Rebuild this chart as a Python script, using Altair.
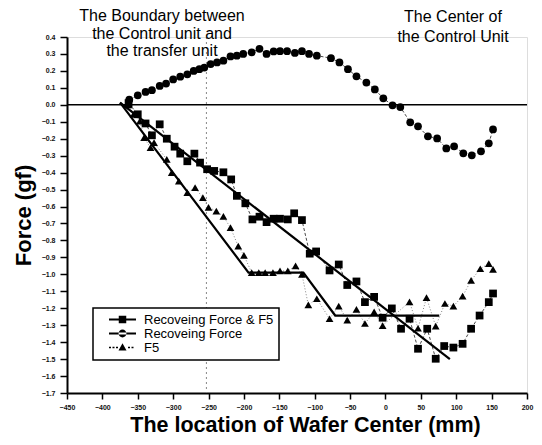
import altair as alt
import pandas as pd

# ---------------- data ----------------
series_names = ["Recoveing Force & F5", "Recoveing Force", "F5"]

# Recoveing Force & F5 (squares)
sq_x = [-363, -350, -339, -330, -319, -309, -298, -290, -280, -270, -262, -252, -242, -229,
        -218, -210, -198, -188, -178, -168, -158, -149, -138, -129, -118, -107, -98, -79,
        -66, -54, -41, -29, -16, -4, 9, 22, 34, 46, 59, 71, 83, 96, 109, 121, 133, 146, 152]
sq_y = [0.01, -0.056, -0.11, -0.18, -0.115, -0.20, -0.247, -0.288, -0.333, -0.288, -0.341, -0.38,
        -0.39, -0.398, -0.44, -0.537, -0.581, -0.676, -0.66, -0.692, -0.672, -0.672, -0.676,
        -0.64, -0.68, -0.878, -0.865, -0.977, -0.942, -1.063, -1.042, -1.164, -1.133, -1.256,
        -1.201, -1.321, -1.262, -1.439, -1.321, -1.498, -1.423, -1.432, -1.41, -1.321, -1.243,
        -1.164, -1.113]

# Recoveing Force (circles)
ci_x = [-362, -350, -339, -330, -319, -310, -300, -290, -280, -271, -263, -256, -247, -238,
        -229, -219, -210, -201, -189, -178, -168, -158, -149, -139, -128, -118, -108, -97,
        -77, -65, -53, -41, -27, -15, -3, 10, 21, 35, 46, 60, 73, 86, 97, 110, 122, 135, 146, 152]
ci_y = [0.03, 0.056, 0.076, 0.086, 0.111, 0.125, 0.15, 0.166, 0.18, 0.20, 0.21, 0.22, 0.24, 0.25,
        0.26, 0.285, 0.29, 0.30, 0.31, 0.33, 0.30, 0.315, 0.316, 0.316, 0.306, 0.316, 0.30, 0.29,
        0.275, 0.25, 0.21, 0.168, 0.131, 0.091, 0.038, -0.003, -0.013, -0.103, -0.127, -0.186,
        -0.198, -0.257, -0.245, -0.286, -0.298, -0.274, -0.227, -0.145]

# F5 (triangles)
tr_x = [-363, -356, -347, -341, -332, -327, -309, -302, -292, -280, -269, -258, -250, -239,
        -229, -219, -208, -200, -189, -179, -170, -159, -149, -138, -127, -118, -109, -97,
        -79, -66, -54, -41, -29, -16, -4, 34, 46, 58, 71, 84, 96, 109, 121, 134, 146, 152]
tr_y = [0.0, -0.056, -0.096, -0.194, -0.253, -0.223, -0.322, -0.40, -0.45, -0.518, -0.489,
        -0.548, -0.605, -0.627, -0.658, -0.725, -0.834, -0.888, -0.99, -0.99, -0.99, -0.99,
        -0.98, -0.98, -0.95, -1.0, -1.18, -1.144, -1.262, -1.187, -1.27, -1.207, -1.29, -1.222,
        -1.302, -1.162, -1.318, -1.138, -1.306, -1.172, -1.188, -1.129, -1.036, -0.967, -0.937,
        -0.971]

# straight fit lines
fit_sq_x = [-375, 91]
fit_sq_y = [0.013, -1.50]
fit_tr_x = [-375, -193.5, -116, -71, 76]
fit_tr_y = [0.013, -0.99, -0.99, -1.243, -1.243]

boundary_x = -253
x_ticks = [-450, -400, -350, -300, -250, -200, -150, -100, -50, 0, 50, 100, 150, 200]
y_ticks = [0.4, 0.3, 0.2, 0.1, 0.0, -0.1, -0.2, -0.3, -0.4, -0.5, -0.6, -0.7, -0.8, -0.9,
           -1.0, -1.1, -1.2, -1.3, -1.4, -1.5, -1.6, -1.7]

annot_left = ["The Boundary between", "the Control unit and", "the transfer unit"]
annot_right = ["The Center of", "the Control Unit"]

# ---------------- tables ----------------
pts = pd.concat([
    pd.DataFrame({"x": sq_x, "y": sq_y, "s": series_names[0]}),
    pd.DataFrame({"x": ci_x, "y": ci_y, "s": series_names[1]}),
    pd.DataFrame({"x": tr_x, "y": tr_y, "s": series_names[2]}),
], ignore_index=True)
fits = pd.concat([
    pd.DataFrame({"x": fit_sq_x, "y": fit_sq_y, "f": "A"}),
    pd.DataFrame({"x": fit_tr_x, "y": fit_tr_y, "f": "B"}),
], ignore_index=True)

FONT = "Liberation Sans"
xs = alt.Scale(domain=[-450, 200], nice=False, zero=False)
ys = alt.Scale(domain=[-1.7, 0.4], nice=False, zero=False)

X = alt.X("x:Q", scale=xs, axis=alt.Axis(
    values=x_ticks, format="d", title="The location of Wafer Center (mm)",
    labelFontSize=7, labelFontWeight="bold", labelColor="#111", labelPadding=4,
    labelOverlap=False, labelFlush=False,
    tickSize=6, tickWidth=1.5, tickColor="black", domainWidth=2, domainColor="black",
    titleFontSize=21.5, titleFontWeight="bold", titleFont=FONT, titleColor="black",
    titlePadding=4, titleX=238, titleAlign="center", grid=False))
Y = alt.Y("y:Q", scale=ys, axis=alt.Axis(
    values=y_ticks, format=".1f", title="Force (gf)",
    labelFontSize=7, labelFontWeight="bold", labelColor="#111", labelPadding=5,
    labelOverlap=False, labelFlush=False,
    tickSize=7, tickWidth=1.5, tickColor="black", domainWidth=2, domainColor="black",
    titleFontSize=22, titleFontWeight="bold", titleFont=FONT, titleColor="black",
    titlePadding=6, grid=False))

base = alt.Chart(pts)

zero_line = alt.Chart(pd.DataFrame({"y": [0.0]})).mark_rule(
    color="black", strokeWidth=1.5).encode(y=Y)
boundary = alt.Chart(pd.DataFrame({"x": [boundary_x]})).mark_rule(
    color="#888", strokeWidth=1, strokeDash=[2, 3]).encode(x=X)

def conn(name, dash, color):
    return base.transform_filter(alt.datum.s == name).mark_line(
        color=color, strokeWidth=0.9, strokeDash=dash).encode(x=X, y=Y)

lines = [conn(series_names[0], [3, 2], "#333"),
         conn(series_names[1], [3, 2], "#333"),
         conn(series_names[2], [1, 2], "#777")]

fit_lines = alt.Chart(fits).mark_line(color="black", strokeWidth=2.2).encode(
    x=X, y=Y, detail="f:N")

points = base.mark_point(filled=True, opacity=1, color="black", size=60).encode(
    x=X, y=Y,
    shape=alt.Shape("s:N", scale=alt.Scale(domain=series_names,
                                            range=["square", "circle", "triangle-up"]),
                    legend=None))

# legend symbols (unit = 5 px at symbolSize 100): marker with line segment through it
sym_sq = "M-2.7,-0.22H2.7V0.22H-2.7Z M-0.75,-0.75H0.75V0.75H-0.75Z"
sym_ci = ("M-2.7,-0.22H2.7V0.22H-2.7Z M-0.78,0A0.78,0.78,0,1,0,0.78,0"
          "A0.78,0.78,0,1,0,-0.78,0Z")
sym_tr = ("M-2.7,-0.14h0.4v0.28h-0.4Z M-2.0,-0.14h0.4v0.28h-0.4Z "
          "M-1.3,-0.14h0.4v0.28h-0.4Z M1.1,-0.14h0.4v0.28h-0.4Z "
          "M1.8,-0.14h0.4v0.28h-0.4Z M0,-0.85L0.8,0.6H-0.8Z")

legend_layer = base.mark_point(filled=True, opacity=0, size=100, color="black").encode(
    x=X, y=Y,
    shape=alt.Shape("s:N", scale=alt.Scale(domain=series_names,
                                            range=[sym_sq, sym_ci, sym_tr]),
                    legend=alt.Legend(
                        title=None, orient="none", legendX=26, legendY=271,
                        strokeColor="black", fillColor="white",
                        padding=5, rowPadding=0, symbolSize=100, symbolOffset=18,
                        symbolFillColor="black", symbolStrokeColor="black",
                        symbolStrokeWidth=0, symbolOpacity=1,
                        labelFont=FONT, labelFontSize=13, labelColor="black",
                        labelOffset=15, labelLimit=300)))

ann1 = alt.Chart(pd.DataFrame({"a": [0]})).mark_text(
    text=annot_left, font=FONT, fontSize=16, lineHeight=17.5, align="center",
    baseline="top", color="black").encode(x=alt.value(95), y=alt.value(-29))
ann2 = alt.Chart(pd.DataFrame({"a": [0]})).mark_text(
    text=annot_right, font=FONT, fontSize=16, lineHeight=19.5, align="center",
    baseline="top", color="black").encode(x=alt.value(386), y=alt.value(-28))

chart = alt.layer(
    boundary, zero_line, *lines, fit_lines, points, legend_layer, ann1, ann2
).resolve_scale(shape="independent").properties(
    width=460, height=356,
    autosize=alt.AutoSizeParams(type="none"),
    padding={"left": 59, "top": 29, "right": 7, "bottom": 44},
).configure_view(stroke=None).configure(font=FONT).configure_legend(strokeWidth=1.5)

chart.save("out.html", embed_options={"renderer": "svg", "actions": False})
